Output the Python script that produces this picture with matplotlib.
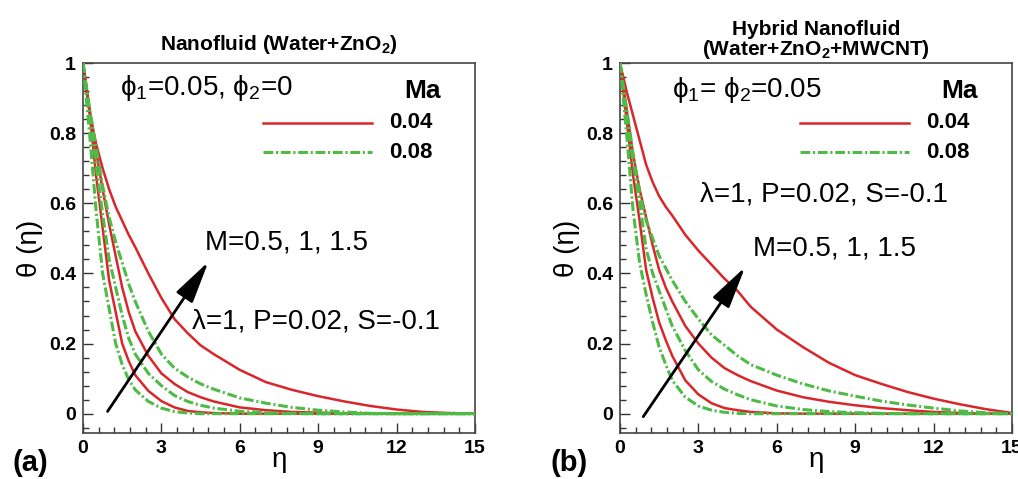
import numpy as np
import matplotlib
matplotlib.use("Agg")
import matplotlib.pyplot as plt
from matplotlib.ticker import MultipleLocator

plt.rcParams['font.family'] = ['Liberation Sans', 'DejaVu Sans']
plt.rcParams['mathtext.default'] = 'regular'
plt.rcParams['lines.scale_dashes'] = False

## data ##
eta = [0, 0.25, 0.5, 0.75, 1, 1.25, 1.5, 1.75, 2, 2.5, 3, 3.5, 4, 4.5, 5,
       6, 7, 8, 9, 10, 11, 12, 13, 14, 15]

# (a) nanofluid, Ma = 0.04 (red) and Ma = 0.08 (green), M = 0.5, 1, 1.5
a_red_m05 = [1, .86, .68, .53, .38, .29, .20, .15, .11, .065, .036, .018, .008, .004, .002,
             0, 0, 0, 0, 0, 0, 0, 0, 0, 0]
a_red_m10 = [1, .87, .75, .64, .54, .45, .36, .29, .235, .165, .115, .085, .062, .047, .035,
             .018, .010, .005, .003, .001, 0, 0, 0, 0, 0]
a_red_m15 = [1, .86, .77, .70, .64, .59, .55, .51, .475, .40, .33, .27, .23, .195, .17,
             .125, .09, .068, .05, .035, .022, .012, .005, .002, 0]
a_grn_m05 = [1, .80, .58, .40, .30, .20, .14, .097, .068, .035, .016, .006, .002, 0, 0,
             0, 0, 0, 0, 0, 0, 0, 0, 0, 0]
a_grn_m10 = [1, .85, .71, .57, .44, .36, .28, .215, .17, .115, .08, .052, .035, .024, .016,
             .007, .003, .001, 0, 0, 0, 0, 0, 0, 0]
a_grn_m15 = [1, .87, .76, .65, .56, .49, .43, .37, .32, .235, .17, .13, .105, .085, .07,
             .045, .03, .018, .01, .005, .001, 0, 0, 0, 0]

# (b) hybrid nanofluid
b_red_m05 = [1, .84, .68, .55, .41, .33, .26, .21, .165, .095, .055, .03, .016, .01, .005,
             .001, 0, 0, 0, 0, 0, 0, 0, 0, 0]
b_red_m10 = [1, .87, .74, .64, .56, .48, .41, .36, .32, .25, .20, .16, .13, .11, .093,
             .066, .047, .034, .024, .016, .01, .005, .002, 0, 0]
b_red_m15 = [1, .92, .85, .78, .71, .66, .62, .59, .565, .51, .465, .425, .385, .35, .305,
             .24, .19, .145, .11, .085, .062, .043, .027, .013, .002]
b_grn_m05 = [1, .80, .58, .43, .34, .26, .19, .14, .095, .047, .022, .01, .004, .001, 0,
             0, 0, 0, 0, 0, 0, 0, 0, 0, 0]
b_grn_m10 = [1, .84, .72, .60, .47, .40, .35, .30, .25, .18, .125, .092, .07, .054, .04,
             .022, .012, .006, .003, .001, 0, 0, 0, 0, 0]
b_grn_m15 = [1, .87, .74, .63, .55, .50, .45, .415, .38, .32, .27, .225, .195, .165, .14,
             .11, .085, .065, .05, .036, .025, .016, .008, .003, 0]

xticks = [0, 3, 6, 9, 12, 15]
yticks = [0, 0.2, 0.4, 0.6, 0.8, 1]
ytick_labels = ['0', '0.2', '0.4', '0.6', '0.8', '1']
ma_labels = ['0.04', '0.08']

RED = '#d9262b'
GREEN = '#4dbb45'
DASH = (7, 2, 1.5, 2)
BIG = 20

fig = plt.figure(figsize=(10.18, 4.79), dpi=100)
axA = fig.add_axes([83/1018, 1-433/479, 392/1018, 370/479])
axB = fig.add_axes([620/1018, 1-433/479, 392/1018, 370/479])


def panel(ax, reds, greens):
    for g in greens:
        ax.plot(eta, g, color=GREEN, lw=2.2, dashes=DASH, zorder=3)
    for r in reds:
        ax.plot(eta, r, color=RED, lw=1.8, zorder=2)
    ax.set_xlim(0, 15)
    ax.set_ylim(-0.055, 1.0)
    ax.set_xticks(xticks)
    ax.set_yticks(yticks)
    ax.set_yticklabels(ytick_labels)
    ax.xaxis.set_minor_locator(MultipleLocator(0.6))
    ax.yaxis.set_minor_locator(MultipleLocator(0.04))
    ax.tick_params(which='both', direction='in', top=False, right=False,
                   labelsize=14, pad=5, color='#333333')
    ax.tick_params(which='major', length=7, width=1)
    ax.tick_params(which='minor', length=4, width=1)
    for lab in ax.get_xticklabels() + ax.get_yticklabels():
        lab.set_fontweight('bold')
    for s in ax.spines.values():
        s.set_color('#444444')
        s.set_linewidth(1.2)
    ax.set_xlabel('η', fontsize=20, labelpad=-7)
    ax.set_ylabel('θ (η)', fontsize=20, labelpad=4)
    # legend drawn by hand as in the figure
    ax.plot([6.9, 11.05], [0.83, 0.83], color=RED, lw=1.8)
    ax.plot([6.9, 11.05], [0.745, 0.745], color=GREEN, lw=2.2, dashes=DASH)
    ax.text(11.7, 0.83, ma_labels[0], fontsize=16, fontweight='bold', va='center')
    ax.text(11.7, 0.745, ma_labels[1], fontsize=16, fontweight='bold', va='center')
    ax.text(12.3, 0.92, 'Ma', fontsize=19, fontweight='bold', va='center')


panel(axA, [a_red_m05, a_red_m10, a_red_m15], [a_grn_m05, a_grn_m10, a_grn_m15])
panel(axB, [b_red_m05, b_red_m10, b_red_m15], [b_grn_m05, b_grn_m10, b_grn_m15])

# panel (a) texts
axA.set_title('Nanofluid (Water+ZnO$_2$)', fontsize=15, fontweight='bold', pad=9)
axA.text(1.4, 0.93, r'$\phi_1$=0.05, $\phi_2$=0', fontsize=BIG, va='center')
axA.text(4.67, 0.487, 'M=0.5, 1, 1.5', fontsize=BIG, va='center')
axA.text(4.17, 0.263, 'λ=1, P=0.02, S=-0.1', fontsize=BIG, va='center')
axA.annotate('', xy=(4.86, 0.44), xytext=(0.88, 0.0),
             arrowprops=dict(arrowstyle='-|>,head_length=1.3,head_width=0.3',
                             color='k', lw=2, mutation_scale=20))

# panel (b) texts
axB.set_title('Hybrid Nanofluid\n(Water+ZnO$_2$+MWCNT)', fontsize=15,
              fontweight='bold', pad=6, linespacing=0.95)
axB.text(2.0, 0.923, r'$\phi_1$= $\phi_2$=0.05', fontsize=BIG, va='center')
axB.text(5.08, 0.472, 'M=0.5, 1, 1.5', fontsize=BIG, va='center')
axB.text(3.06, 0.624, 'λ=1, P=0.02, S=-0.1', fontsize=BIG, va='center')
axB.annotate('', xy=(4.85, 0.425), xytext=(0.83, -0.015),
             arrowprops=dict(arrowstyle='-|>,head_length=1.3,head_width=0.3',
                             color='k', lw=2, mutation_scale=20))

fig.text(13/1018, 1-463/479, '(a)', fontsize=21, fontweight='bold', va='center')
fig.text(550/1018, 1-463/479, '(b)', fontsize=21, fontweight='bold', va='center')

fig.savefig('out.png', dpi=100)
